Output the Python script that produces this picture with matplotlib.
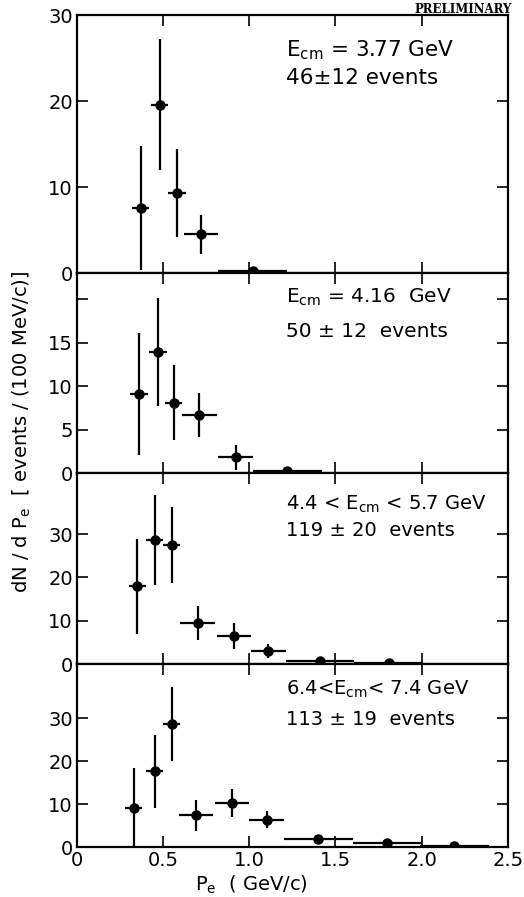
import matplotlib.pyplot as plt
import numpy as np

plt.rcParams['font.family'] = ['DejaVu Sans']
plt.rcParams['mathtext.fontset'] = 'dejavusans'

# panel 1: Ecm = 3.77 GeV
p1_x = [0.37, 0.48, 0.58, 0.72, 1.02]
p1_xerr = [0.05, 0.05, 0.05, 0.10, 0.20]
p1_y = [7.6, 19.6, 9.3, 4.5, 0.3]
p1_yerr = [7.2, 7.6, 5.1, 2.3, 0.0]

# panel 2: Ecm = 4.16 GeV
p2_x = [0.36, 0.47, 0.56, 0.71, 0.92, 1.22]
p2_xerr = [0.05, 0.05, 0.05, 0.10, 0.10, 0.20]
p2_y = [9.1, 13.9, 8.1, 6.7, 1.8, 0.2]
p2_yerr = [7.0, 6.2, 4.3, 2.5, 1.4, 0.0]

# panel 3: 4.4 < Ecm < 5.7 GeV
p3_x = [0.35, 0.45, 0.55, 0.70, 0.91, 1.11, 1.41, 1.81]
p3_xerr = [0.05, 0.05, 0.05, 0.10, 0.10, 0.10, 0.20, 0.20]
p3_y = [18.0, 28.6, 27.5, 9.4, 6.5, 3.0, 0.7, 0.3]
p3_yerr = [11.0, 10.4, 8.7, 3.9, 3.0, 1.7, 0.0, 0.0]

# panel 4: 6.4 < Ecm < 7.4 GeV
p4_x = [0.33, 0.45, 0.55, 0.69, 0.90, 1.10, 1.40, 1.80, 2.19]
p4_xerr = [0.05, 0.05, 0.05, 0.10, 0.10, 0.10, 0.20, 0.20, 0.20]
p4_y = [9.0, 17.7, 28.6, 7.4, 10.3, 6.4, 1.8, 1.0, 0.3]
p4_yerr = [9.5, 8.5, 8.6, 3.6, 3.2, 2.0, 0.0, 0.0, 0.0]

labels_1 = [r'E$_{\rm cm}$ = 3.77 GeV', r'E$_{\rm cm}$ = 4.16  GeV',
            r'4.4 < E$_{\rm cm}$ < 5.7 GeV', r'6.4<E$_{\rm cm}$< 7.4 GeV']
labels_2 = ['46±12 events', '50 ± 12  events', '119 ± 20  events', '113 ± 19  events']
label_size = [15.5, 14.5, 14, 14]

ylims = [30, 23, 44.1, 42.6]
yticks = [[0, 10, 20, 30], [0, 5, 10, 15, 20], [0, 10, 20, 30], [0, 10, 20, 30]]
yticklabels = [['0', '10', '20', '30'], ['0', '5', '10', '15', ''],
               ['0', '10', '20', '30'], ['0', '10', '20', '30']]
text_y = [(0.84, 0.735), (0.85, 0.68), (0.806, 0.67), (0.83, 0.667)]

xs = [p1_x, p2_x, p3_x, p4_x]
xerrs = [p1_xerr, p2_xerr, p3_xerr, p4_xerr]
ys = [p1_y, p2_y, p3_y, p4_y]
yerrs = [p1_yerr, p2_yerr, p3_yerr, p4_yerr]

fig = plt.figure(figsize=(5.24, 8.97), dpi=100)
gs = fig.add_gridspec(4, 1, height_ratios=[258, 200, 191, 183], hspace=0,
                      left=0.147, right=0.969, top=0.983, bottom=0.0557)

for i in range(4):
    ax = fig.add_subplot(gs[i])
    ax.errorbar(xs[i], ys[i], xerr=xerrs[i], yerr=yerrs[i], fmt='o', color='black',
                markersize=6.5, elinewidth=1.6, capsize=0)
    ax.set_xlim(0, 2.5)
    ax.set_ylim(0, ylims[i])
    ax.set_yticks(yticks[i])
    ax.set_yticklabels(yticklabels[i])
    ax.set_xticks([0, 0.5, 1.0, 1.5, 2.0, 2.5])
    ax.tick_params(direction='in', top=True, right=True, length=8, width=1.2,
                   labelsize=14, pad=3)
    for s in ax.spines.values():
        s.set_linewidth(1.6)
    if i < 3:
        ax.tick_params(labelbottom=False)
    else:
        ax.set_xticklabels(['0', '0.5', '1.0', '1.5', '2.0', '2.5'])
    # annotations: x in data units, y as axes fraction
    ax.text(1.21, text_y[i][0], labels_1[i], transform=ax.get_xaxis_transform(),
            fontsize=label_size[i], va='baseline')
    ax.text(1.21, text_y[i][1], labels_2[i], transform=ax.get_xaxis_transform(),
            fontsize=label_size[i], va='baseline')

fig.text(0.976, 0.989, 'PRELIMINARY', ha='right', va='center', fontsize=8.5,
         fontweight='bold', family='DejaVu Serif')
fig.text(0.042, 0.518, r'dN / d P$_{\rm e}$  [ events / (100 MeV/c)]', rotation=90,
         ha='center', va='center', fontsize=14)
fig.text(0.48, 0.013, r'P$_{\rm e}$  ( GeV/c)', ha='center', va='center', fontsize=14)

fig.savefig('out.png', dpi=100)
